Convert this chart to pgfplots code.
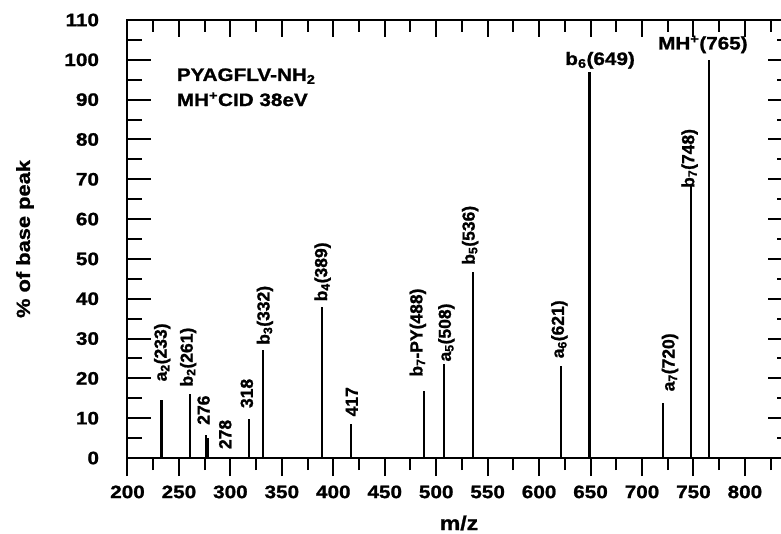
\documentclass[border=0pt]{standalone}
\usepackage{fontspec}
\setmainfont{Liberation Sans}[FakeStretch=1.15, BoldFeatures={FakeBold=1.2}]
\newfontfamily\rotfont{Liberation Sans}[BoldFeatures={FakeBold=1.2}]
\usepackage{pgfplots}
\pgfplotsset{compat=1.18}

% fonts for ticks, horizontal labels and rotated peak labels
\newcommand{\lbl}{\fontsize{18}{20}\selectfont\bfseries}
\newcommand{\rlbl}{\rotfont\fontsize{17.5}{19}\selectfont\bfseries}

\pgfplotsset{
  spec frame/.style={
    scale only axis, width=663.7pt, height=438pt,
    xmin=200, xmax=845, ymin=0, ymax=110,
    axis line style={line width=2pt},
    every tick/.style={black, line width=2pt},
    /pgf/number format/assume math mode=true,
    clip=false,
  },
}

\begin{document}
\begin{tikzpicture}
% frame, y ticks on both sides, peaks and labels
\begin{axis}[spec frame, name=main,
  xtick=\empty,
  ytick={0,10,...,110}, minor ytick={5,15,...,105},
  tick align=inside,
  major tick length=23pt, minor tick length=14pt,
  yticklabel style={font=\lbl, xshift=-25pt},
  ylabel={\% of base peak},
  ylabel style={at={(axis description cs:-0.1544,0.5)}, anchor=center,
                font=\fontsize{19}{20}\selectfont\bfseries},
]
\addplot[ycomb, black, line width=2.1pt] coordinates {
  (233,14.6) (261,16.0) (276,5.8) (278,5.0) (318,9.8) (332,27.0)
  (389,37.8) (417,8.5) (488,16.8) (508,23.6) (536,46.6) (621,23.1)
  (649,97.0) (720,13.9) (748,68.6) (765,100)
};
% fragment labels
\begin{scope}[every node/.style={rotate=90, anchor=west, inner sep=0pt, font=\rlbl}]
\node at (axis cs:233.7,19.2) {a\textsubscript{2}(233)};
\node at (axis cs:259,17.9)   {b\textsubscript{2}(261)};
\node at (axis cs:274,8.3)    {276};
\node at (axis cs:295,2.2)    {278};
\node at (axis cs:316,12.5)   {318};
\node at (axis cs:333.6,28.4) {b\textsubscript{3}(332)};
\node at (axis cs:389.6,39.3) {b\textsubscript{4}(389)};
\node at (axis cs:418,10.4)   {417};
\node at (axis cs:482.2,20.4) {b\textsubscript{7}-PY(488)};
\node at (axis cs:509.9,24.2) {a\textsubscript{5}(508)};
\node at (axis cs:533,48.5)   {b\textsubscript{5}(536)};
\node at (axis cs:619.7,25)   {a\textsubscript{6}(621)};
\node at (axis cs:727.2,16.7) {a\textsubscript{7}(720)};
\node at (axis cs:746.3,67.8) {b\textsubscript{7}(748)};
\end{scope}
\node[anchor=base, inner sep=0pt, font=\lbl] at (axis cs:659.3,98.7) {b\textsubscript{6}(649)};
\node[anchor=base, inner sep=0pt, font=\lbl] at (axis cs:759.2,102.6) {MH\textsuperscript{+}(765)};
% sample description
\node[anchor=base west, inner sep=0pt, font=\lbl] at (axis cs:247.8,94.7) {PYAGFLV-NH\textsubscript{2}};
\node[anchor=base west, inner sep=0pt, font=\lbl] at (axis cs:247.8,88.4) {MH\textsuperscript{+}CID 38eV};
\end{axis}

% top x ticks, pointing inward
\begin{axis}[spec frame,
  hide y axis, axis x line*=top,
  xtick={200,250,...,800}, minor xtick={225,275,...,825},
  xticklabels={},
  tick align=inside,
  major tick length=17pt, minor tick length=12pt,
]
\end{axis}

% bottom x ticks, pointing outward, with labels
\begin{axis}[spec frame,
  hide y axis, axis x line*=bottom,
  xtick={200,250,...,800}, minor xtick={225,275,...,825},
  tick align=outside,
  major tick length=18pt, minor tick length=12pt,
  xticklabel style={font=\lbl, yshift=-6pt},
  xlabel={m/z},
  xlabel style={at={(axis description cs:0.4995,-0.1644)}, anchor=base,
                font=\fontsize{20}{22}\selectfont\bfseries},
]
\end{axis}

\pgfresetboundingbox
\path[use as bounding box] ([xshift=-127.5pt,yshift=-75pt]main.south west)
  rectangle ([xshift=653.5pt,yshift=20pt]main.north west);
\end{tikzpicture}
\end{document}
